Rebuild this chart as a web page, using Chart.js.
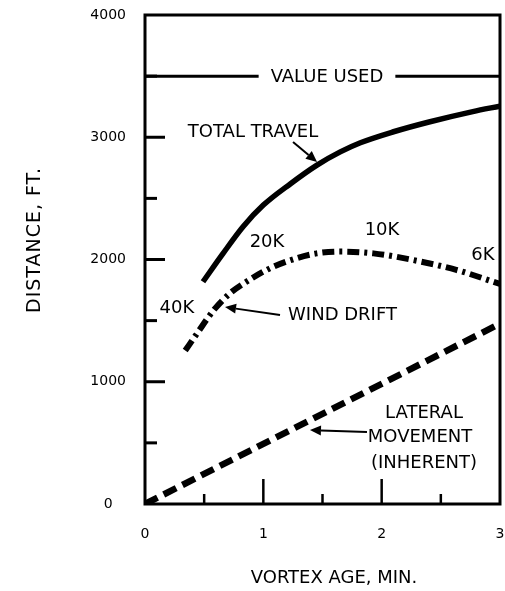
<!DOCTYPE html>
<html><head><meta charset="utf-8">
<script src="https://cdn.jsdelivr.net/npm/chart.js@4/dist/chart.umd.min.js"></script>
<style>html,body{margin:0;padding:0;background:#fff;}#wrap{width:505px;height:591px;position:relative;}</style>
</head><body><div id="wrap"><canvas id="c"></canvas></div>
<script>
// ---- data ----
const ageTotal    = [0.49, 0.66, 0.83, 1.0, 1.23, 1.45, 1.65, 1.82, 2.1, 2.4, 2.77, 3.0];
const distTotal   = [1818, 2050, 2270, 2445, 2620, 2770, 2880, 2955, 3045, 3125, 3210, 3255];
const ageWind     = [0.34, 0.44, 0.58, 0.72, 0.86, 1.06, 1.28, 1.45, 1.65, 1.93, 2.27, 2.63, 3.0];
const distWind    = [1255, 1395, 1585, 1725, 1820, 1930, 2010, 2050, 2065, 2050, 1995, 1915, 1800];
const ageLateral  = [0, 3];
const distLateral = [0, 1475];
const valueUsed   = 3500;
const xTickValues = [0, 1, 2, 3];
const yTickValues = [0, 1000, 2000, 3000, 4000];
const seriesNames = ['TOTAL TRAVEL', 'WIND DRIFT', 'LATERAL MOVEMENT (INHERENT)'];
const altitudeLabels = ['40K', '20K', '10K', '6K'];
const xTitle = 'VORTEX AGE, MIN.';
const yTitle = 'DISTANCE, FT.';

// ---- annotation placement (data coordinates) ----
const notes = [
  {text: 'TOTAL TRAVEL', x: 0.913, y: 3043},
  {text: altitudeLabels[0], x: 0.270, y: 1603},
  {text: altitudeLabels[1], x: 1.031, y: 2143},
  {text: altitudeLabels[2], x: 2.003, y: 2241},
  {text: altitudeLabels[3], x: 2.856, y: 2037},
  {text: 'WIND DRIFT', x: 1.669, y: 1546},
  {text: 'LATERAL', x: 2.358, y: 744},
  {text: 'MOVEMENT', x: 2.324, y: 548},
  {text: '(INHERENT)', x: 2.358, y: 335}
];
const arrows = [
  {from: [1.251, 2961], to: [1.454, 2798]},
  {from: [1.141, 1546], to: [0.676, 1611]},
  {from: [1.876, 589],  to: [1.394, 605]}
];

const FONT = '"DejaVu Sans", sans-serif';
const zip = (xs, ys) => xs.map((x, i) => ({x, y: ys[i]}));

const decor = {
  id: 'decor',
  afterDatasetsDraw(chart) {
    const ctx = chart.ctx, a = chart.chartArea;
    const xs = chart.scales.x, ys = chart.scales.y;
    ctx.save();
    ctx.strokeStyle = '#000'; ctx.fillStyle = '#000';
    // frame
    ctx.lineWidth = 3;
    ctx.strokeRect(a.left, a.top, a.right - a.left, a.bottom - a.top);
    // inward ticks on y
    for (let v = 500; v < 4000; v += 500) {
      const y = ys.getPixelForValue(v);
      const len = (v % 1000 === 0) ? 20 : 12;
      ctx.beginPath(); ctx.moveTo(a.left, y); ctx.lineTo(a.left + len, y); ctx.stroke();
    }
    // inward ticks on x
    ctx.lineWidth = 2.5;
    for (let v = 0.5; v < 3; v += 0.5) {
      const x = xs.getPixelForValue(v);
      const len = (Math.abs(v - Math.round(v)) < 1e-6) ? 25 : 10;
      ctx.beginPath(); ctx.moveTo(x, a.bottom); ctx.lineTo(x, a.bottom - len); ctx.stroke();
    }
    // value used line
    ctx.font = '18px ' + FONT;
    ctx.textAlign = 'center'; ctx.textBaseline = 'middle';
    const vy = ys.getPixelForValue(valueUsed);
    const vx = xs.getPixelForValue(1.538);
    const label = 'VALUE USED';
    const w = ctx.measureText(label).width;
    ctx.lineWidth = 3;
    ctx.beginPath(); ctx.moveTo(a.left, vy); ctx.lineTo(vx - w / 2 - 12, vy);
    ctx.moveTo(vx + w / 2 + 12, vy); ctx.lineTo(a.right, vy); ctx.stroke();
    ctx.fillText(label, vx, vy + 1);
    // notes
    notes.forEach(n => ctx.fillText(n.text, xs.getPixelForValue(n.x), ys.getPixelForValue(n.y)));
    // arrows
    ctx.lineWidth = 2;
    arrows.forEach(ar => {
      const x1 = xs.getPixelForValue(ar.from[0]), y1 = ys.getPixelForValue(ar.from[1]);
      const x2 = xs.getPixelForValue(ar.to[0]),   y2 = ys.getPixelForValue(ar.to[1]);
      const ang = Math.atan2(y2 - y1, x2 - x1), L = 11, H = 5;
      const bx = x2 - L * Math.cos(ang), by = y2 - L * Math.sin(ang);
      ctx.beginPath(); ctx.moveTo(x1, y1); ctx.lineTo(bx, by); ctx.stroke();
      ctx.beginPath(); ctx.moveTo(x2, y2);
      ctx.lineTo(bx + H * Math.sin(ang), by - H * Math.cos(ang));
      ctx.lineTo(bx - H * Math.sin(ang), by + H * Math.cos(ang));
      ctx.closePath(); ctx.fill();
    });
    // axis titles
    ctx.font = '18px ' + FONT;
    ctx.fillText(xTitle, 334, 578);
    ctx.save();
    ctx.translate(35, 240); ctx.rotate(-Math.PI / 2);
    ctx.font = '19px ' + FONT;
    if ('letterSpacing' in ctx) ctx.letterSpacing = '1px';
    ctx.fillText(yTitle, 0, 0);
    ctx.restore();
    ctx.restore();
  }
};

new Chart(document.getElementById('c'), {
  type: 'line',
  data: {
    datasets: [
      {label: seriesNames[0], data: zip(ageTotal, distTotal), borderColor: '#000', borderWidth: 5.5,
       borderCapStyle: 'butt', pointRadius: 0, cubicInterpolationMode: 'monotone', fill: false},
      {label: seriesNames[1], data: zip(ageWind, distWind), borderColor: '#000', borderWidth: 6,
       borderDash: [12, 5, 3, 5], borderCapStyle: 'butt', pointRadius: 0, cubicInterpolationMode: 'monotone', fill: false},
      {label: seriesNames[2], data: zip(ageLateral, distLateral), borderColor: '#000', borderWidth: 6.5,
       borderDash: [14, 7], borderCapStyle: 'butt', pointRadius: 0, fill: false}
    ]
  },
  options: {
    responsive: true, maintainAspectRatio: false, animation: false,
    layout: {padding: {top: 15, right: 5, left: 0, bottom: 0}},
    plugins: {legend: {display: false}, tooltip: {enabled: false}},
    scales: {
      x: {
        type: 'linear', min: 0, max: 3,
        afterBuildTicks: s => { s.ticks = xTickValues.map(v => ({value: v})); },
        afterFit: s => { s.height = 87; s.paddingLeft = 0; s.paddingRight = 0; },
        grid: {display: false, drawTicks: false, tickLength: 0},
        border: {display: false},
        ticks: {color: '#000', font: {family: FONT, size: 14}, padding: 22, maxRotation: 0,
                callback: v => String(v)}
      },
      y: {
        type: 'linear', min: 0, max: 4000,
        afterBuildTicks: s => { s.ticks = yTickValues.map(v => ({value: v})); },
        afterFit: s => { s.width = 145; s.paddingTop = 0; s.paddingBottom = 0; },
        grid: {display: false, drawTicks: false, tickLength: 0},
        border: {display: false},
        ticks: {color: '#000', font: {family: FONT, size: 14}, padding: 19, crossAlign: 'center',
                callback: v => String(v)}
      }
    }
  },
  plugins: [decor]
});
</script></body></html>
